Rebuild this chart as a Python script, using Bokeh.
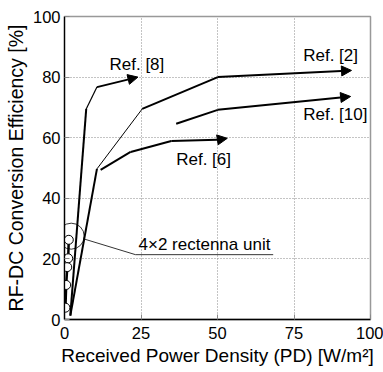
from bokeh.plotting import figure
from bokeh.models import Range1d, FixedTicker, Arrow, NormalHead, ColumnDataSource
from bokeh.core.properties import value
from bokeh.embed import file_html
from bokeh.resources import INLINE

# data
ref8_x = [1.9, 7.1, 10.6, 24.0]
ref8_y = [1.3, 69.5, 76.7, 80.0]
ref2_x = [1.9, 10.6, 25.4, 50.1, 93.8]
ref2_y = [1.3, 49.7, 69.5, 80.0, 82.2]
ref6_x = [11.8, 21.6, 34.9, 50.0, 53.2]
ref6_y = [49.4, 55.3, 58.9, 59.3, 59.8]
ref10_x = [36.5, 50.1, 93.5]
ref10_y = [64.6, 69.2, 73.6]
unit_x = [0.3, 0.55, 0.9, 1.2, 1.4]
unit_y = [3.9, 11.4, 17.3, 20.2, 26.3]
callout_x = [6.3, 23.2, 68.2]
callout_y = [26.6, 21.4, 21.4]
labels = ["Ref. [8]", "Ref. [2]", "Ref. [10]", "Ref. [6]", "4\u00d72 rectenna unit"]
label_x = [14.7, 78.0, 78.0, 36.5, 24.2]
label_y = [84.0, 87.1, 67.5, 52.7, 24.7]
x_ticks = [0, 25, 50, 75, 100]
y_ticks = [0, 20, 40, 60, 80, 100]

FONT = "Liberation Sans"

p = figure(width=383, height=372, output_backend="svg", toolbar_location=None,
           x_range=Range1d(0, 100), y_range=Range1d(0, 100),
           min_border_left=64, min_border_right=13, min_border_top=16, min_border_bottom=53)
p.background_fill_color = "white"
p.border_fill_color = "white"
p.outline_line_color = "#999999"
p.outline_line_width = 1.5

for ax in (p.xaxis[0], p.yaxis[0]):
    ax.axis_line_color = "black"
    ax.axis_line_width = 1.3
    ax.major_label_text_font = FONT
    ax.major_label_text_font_size = "16.5px"
    ax.major_label_text_color = "black"
    ax.axis_label_text_font = FONT
    ax.axis_label_text_font_style = "normal"
    ax.axis_label_text_color = "black"
    ax.minor_tick_line_color = None
    ax.major_tick_in = 5
    ax.major_tick_out = 0
    ax.major_tick_line_color = "#888888"

p.xaxis.ticker = FixedTicker(ticks=x_ticks)
p.yaxis.ticker = FixedTicker(ticks=y_ticks)
p.xaxis.axis_label = "Received Power Density (PD) [W/m\u00b2]"
p.yaxis.axis_label = "RF-DC Conversion Efficiency [%]"
p.xaxis.axis_label_text_font_size = "19px"
p.yaxis.axis_label_text_font_size = "19.5px"
p.xaxis.major_label_standoff = 7
p.yaxis.major_label_standoff = 4
p.xaxis.axis_label_standoff = 3
p.yaxis.axis_label_standoff = 3

p.grid.grid_line_color = "#888888"
p.grid.grid_line_dash = "1 2"
p.grid.grid_line_width = 1


def seg(xs, ys, widths):
    p.segment(x0=xs[:-1], y0=ys[:-1], x1=xs[1:], y1=ys[1:],
              line_color="black", line_width=widths)


def arrow_end(xs, ys, w):
    p.add_layout(Arrow(end=NormalHead(size=10, fill_color="black", line_color="black"),
                       x_start=xs[-2], y_start=ys[-2], x_end=xs[-1], y_end=ys[-1],
                       line_color="black", line_width=w))

seg(ref8_x[:-1], ref8_y[:-1], [2, 1.2])
arrow_end(ref8_x, ref8_y, 2)
seg(ref2_x[:-1], ref2_y[:-1], [2, 1, 2])
arrow_end(ref2_x, ref2_y, 2)
seg(ref6_x[:-1], ref6_y[:-1], [2, 2, 2])
arrow_end(ref6_x, ref6_y, 2)
seg(ref10_x[:-1], ref10_y[:-1], [2])
arrow_end(ref10_x, ref10_y, 2)

# rectenna unit measurements
p.line(unit_x, unit_y, line_color="black", line_width=2.5)
p.scatter(unit_x, unit_y, size=9, fill_color="white", line_color="black", line_width=1)
p.scatter([unit_x[-1] + 0.8], [unit_y[-1] + 1.2], size=26, fill_color=None,
          line_color="black", line_width=0.8)
p.line(callout_x, callout_y, line_color="black", line_width=0.8)

src = ColumnDataSource(dict(x=label_x, y=label_y, t=labels))
p.text(x="x", y="y", text="t", source=src, text_font=value(FONT),
       text_font_size="17px", text_baseline="middle", text_align="left", text_color="black")

open("out.html", "w").write(file_html(p, INLINE))
